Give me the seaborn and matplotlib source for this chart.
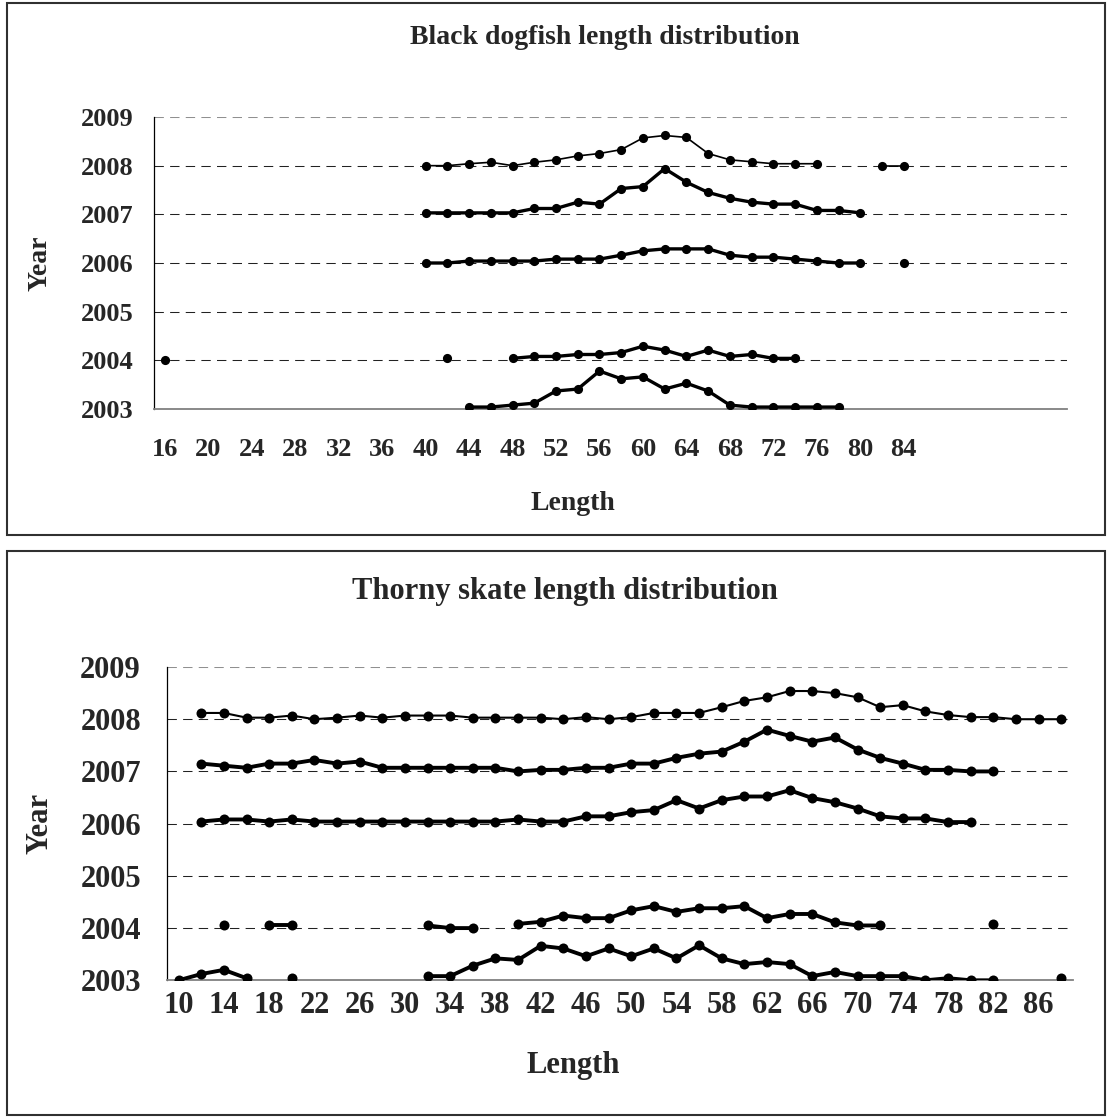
import numpy as np
import pandas as pd
import matplotlib
matplotlib.use("Agg")
import matplotlib.pyplot as plt
from matplotlib.patches import Rectangle
import seaborn as sns

sns.set_style("white")
plt.rcParams['font.family'] = ['Liberation Serif', 'DejaVu Serif']
plt.rcParams['font.weight'] = 'bold'

# ---------------- Data: Black dogfish ----------------
bd_title = "Black dogfish length distribution"
bd_xticklabels = [16, 20, 24, 28, 32, 36, 40, 44, 48, 52, 56, 60, 64, 68, 72, 76, 80, 84]
bd_2008_len = [40, 42, 44, 46, 48, 50, 52, 54, 56, 58, 60, 62, 64, 66, 68, 70, 72, 74, 76, 82, 84]
bd_2008_val = [2008.00, 2008.00, 2008.04, 2008.07, 2008.00, 2008.07, 2008.12, 2008.20, 2008.25, 2008.33,
               2008.57, 2008.62, 2008.58, 2008.25, 2008.12, 2008.08, 2008.04, 2008.04, 2008.04, 2008.00, 2008.00]
bd_2007_len = [40, 42, 44, 46, 48, 50, 52, 54, 56, 58, 60, 62, 64, 66, 68, 70, 72, 74, 76, 78, 80]
bd_2007_val = [2007.03, 2007.03, 2007.03, 2007.03, 2007.03, 2007.12, 2007.12, 2007.25, 2007.21, 2007.53,
               2007.57, 2007.94, 2007.66, 2007.45, 2007.33, 2007.25, 2007.21, 2007.21, 2007.08, 2007.08, 2007.03]
bd_2006_len = [40, 42, 44, 46, 48, 50, 52, 54, 56, 58, 60, 62, 64, 66, 68, 70, 72, 74, 76, 78, 80, 84]
bd_2006_val = [2006.00, 2006.00, 2006.04, 2006.04, 2006.04, 2006.04, 2006.08, 2006.08, 2006.08, 2006.16,
               2006.25, 2006.29, 2006.29, 2006.29, 2006.16, 2006.12, 2006.12, 2006.08, 2006.04, 2006.00,
               2006.00, 2006.00]
bd_2004_len = [16, 42, 48, 50, 52, 54, 56, 58, 60, 62, 64, 66, 68, 70, 72, 74]
bd_2004_val = [2004.00, 2004.04, 2004.04, 2004.08, 2004.08, 2004.12, 2004.12, 2004.16, 2004.29, 2004.21,
               2004.08, 2004.21, 2004.08, 2004.12, 2004.04, 2004.04]
bd_2003_len = [44, 46, 48, 50, 52, 54, 56, 58, 60, 62, 64, 66, 68, 70, 72, 74, 76, 78]
bd_2003_val = [2003.04, 2003.04, 2003.08, 2003.12, 2003.37, 2003.41, 2003.78, 2003.62, 2003.66, 2003.41,
               2003.53, 2003.37, 2003.08, 2003.04, 2003.04, 2003.04, 2003.04, 2003.04]

# ---------------- Data: Thorny skate ----------------
ts_title = "Thorny skate length distribution"
ts_xticklabels = [10, 14, 18, 22, 26, 30, 34, 38, 42, 46, 50, 54, 58, 62, 66, 70, 74, 78, 82, 86]
ts_2008_len = [12, 14, 16, 18, 20, 22, 24, 26, 28, 30, 32, 34, 36, 38, 40, 42, 44, 46, 48, 50,
               52, 54, 56, 58, 60, 62, 64, 66, 68, 70, 72, 74, 76, 78, 80, 82, 84, 86, 88]
ts_2008_val = [2008.12, 2008.12, 2008.03, 2008.03, 2008.07, 2008.00, 2008.03, 2008.07, 2008.03, 2008.07,
               2008.07, 2008.07, 2008.03, 2008.03, 2008.03, 2008.03, 2008.00, 2008.04, 2008.00, 2008.04,
               2008.12, 2008.12, 2008.12, 2008.23, 2008.35, 2008.42, 2008.54, 2008.54, 2008.50, 2008.42,
               2008.23, 2008.27, 2008.15, 2008.08, 2008.04, 2008.04, 2008.00, 2008.00, 2008.00]
ts_2007_len = [12, 14, 16, 18, 20, 22, 24, 26, 28, 30, 32, 34, 36, 38, 40, 42, 44, 46, 48, 50,
               52, 54, 56, 58, 60, 62, 64, 66, 68, 70, 72, 74, 76, 78, 80, 82]
ts_2007_val = [2007.15, 2007.11, 2007.07, 2007.15, 2007.15, 2007.22, 2007.15, 2007.19, 2007.07, 2007.07,
               2007.07, 2007.07, 2007.07, 2007.07, 2007.00, 2007.03, 2007.03, 2007.07, 2007.07, 2007.15,
               2007.15, 2007.26, 2007.34, 2007.38, 2007.57, 2007.80, 2007.68, 2007.57, 2007.65, 2007.42,
               2007.26, 2007.15, 2007.03, 2007.03, 2007.00, 2007.00]
ts_2006_len = [12, 14, 16, 18, 20, 22, 24, 26, 28, 30, 32, 34, 36, 38, 40, 42, 44, 46, 48, 50,
               52, 54, 56, 58, 60, 62, 64, 66, 68, 70, 72, 74, 76, 78, 80]
ts_2006_val = [2006.04, 2006.08, 2006.08, 2006.04, 2006.08, 2006.04, 2006.04, 2006.04, 2006.04, 2006.04,
               2006.04, 2006.04, 2006.04, 2006.04, 2006.08, 2006.04, 2006.04, 2006.14, 2006.14, 2006.22,
               2006.26, 2006.45, 2006.29, 2006.45, 2006.52, 2006.52, 2006.64, 2006.49, 2006.41, 2006.29,
               2006.14, 2006.10, 2006.10, 2006.03, 2006.03]
ts_2004_len = [14, 18, 20, 32, 34, 36, 40, 42, 44, 46, 48, 50, 52, 54, 56, 58, 60, 62, 64, 66,
               68, 70, 72, 82]
ts_2004_val = [2004.05, 2004.05, 2004.05, 2004.05, 2004.00, 2004.00, 2004.08, 2004.12, 2004.24, 2004.19,
               2004.19, 2004.34, 2004.42, 2004.31, 2004.38, 2004.38, 2004.42, 2004.19, 2004.27, 2004.27,
               2004.11, 2004.05, 2004.05, 2004.08]
ts_2003_len = [10, 12, 14, 16, 20, 32, 34, 36, 38, 40, 42, 44, 46, 48, 50, 52, 54, 56, 58, 60,
               62, 64, 66, 68, 70, 72, 74, 76, 78, 80, 82, 88]
ts_2003_val = [2003.00, 2003.12, 2003.20, 2003.04, 2003.04, 2003.08, 2003.08, 2003.28, 2003.42, 2003.39,
               2003.66, 2003.61, 2003.46, 2003.61, 2003.46, 2003.61, 2003.42, 2003.67, 2003.42, 2003.31,
               2003.35, 2003.31, 2003.08, 2003.16, 2003.08, 2003.08, 2003.08, 2003.00, 2003.04, 2003.00,
               2003.00, 2003.04]

year_ticks = [2003, 2004, 2005, 2006, 2007, 2008, 2009]


def to_frame(lengths, values):
    lengths = np.asarray(lengths)
    seg = np.concatenate([[0], np.cumsum(np.diff(lengths) > 2)])
    return pd.DataFrame({"Length": lengths, "Year": values, "seg": seg})


W, H = 1108, 1118
fig = plt.figure(figsize=(W / 100, H / 100), dpi=100)


def px_axes(left, top, right, bottom):
    return fig.add_axes([left / W, 1 - bottom / H, (right - left) / W, (bottom - top) / H])


def style_panel(ax, xlim, ticklabels, fs, xpad, ypad, ytick_len):
    ax.set_xlim(*xlim)
    ax.set_ylim(2003, 2009)
    ax.set_yticks(year_ticks)
    ax.set_yticklabels([str(y) for y in year_ticks], fontsize=fs, fontweight='bold')
    ax.set_xticks(ticklabels)
    ax.set_xticklabels([str(t) for t in ticklabels], fontsize=fs, fontweight='bold')
    ax.set_xticks(np.arange(xlim[0], xlim[1] + 0.5, 2), minor=True)
    ax.tick_params(axis='x', which='major', length=0, pad=xpad)
    ax.tick_params(axis='x', which='minor', length=5, width=0.9, color='#707070', direction='out')
    ax.tick_params(axis='y', which='major', length=ytick_len, width=0.9, color='#505050',
                   direction='out', pad=ypad)
    ax.set_xlabel("")
    ax.set_ylabel("")
    for s in ['top', 'right']:
        ax.spines[s].set_visible(False)
    ax.spines['left'].set_color('black')
    ax.spines['left'].set_linewidth(0.9)
    ax.spines['bottom'].set_color('#808080')
    ax.spines['bottom'].set_linewidth(1.3)
    for y in year_ticks[1:]:
        ax.axhline(y, color='#909090' if y == 2009 else '#222222', lw=0.75,
                   ls=(0, (9, 6)), zorder=0)


def draw_series(ax, lengths, values, lw, ms):
    df = to_frame(lengths, values)
    sns.lineplot(data=df, x="Length", y="Year", units="seg", estimator=None, sort=False,
                 color="black", lw=lw, marker="o", markersize=ms, markeredgewidth=0,
                 legend=False, ax=ax, zorder=3)


# Panel frames
for (l, t, r, b) in [(7, 3, 1105, 535), (7, 551, 1105, 1115)]:
    fig.add_artist(Rectangle((l / W, 1 - b / H), (r - l) / W, (b - t) / H,
                             transform=fig.transFigure, fill=False, ec='#303030', lw=1.5))

# ---------- Top panel ----------
ax1 = px_axes(154, 117, 1066.7, 409)
draw_series(ax1, bd_2008_len, bd_2008_val, 1.2, 6.6)
draw_series(ax1, bd_2007_len, bd_2007_val, 2.4, 6.6)
draw_series(ax1, bd_2006_len, bd_2006_val, 2.4, 6.6)
draw_series(ax1, bd_2004_len, bd_2004_val, 2.4, 6.6)
draw_series(ax1, bd_2003_len, bd_2003_val, 2.4, 6.6)
style_panel(ax1, (15, 99), bd_xticklabels, 19, 21, 9, 6)
fig.text(605 / W, 1 - 38 / H, bd_title, ha='center', va='center', fontsize=20, fontweight='bold')
fig.text(40 / W, 1 - 263 / H, "Year", ha='center', va='center', rotation=90, fontsize=20,
         fontweight='bold')
fig.text(573 / W, 1 - 503 / H, "Length", ha='center', va='center', fontsize=20, fontweight='bold')

# ---------- Bottom panel ----------
ax2 = px_axes(167.3, 667, 1072.5, 980.3)
draw_series(ax2, ts_2008_len, ts_2008_val, 1.5, 7.2)
draw_series(ax2, ts_2007_len, ts_2007_val, 2.8, 7.2)
draw_series(ax2, ts_2006_len, ts_2006_val, 2.8, 7.2)
draw_series(ax2, ts_2004_len, ts_2004_val, 2.8, 7.2)
draw_series(ax2, ts_2003_len, ts_2003_val, 2.8, 7.2)
style_panel(ax2, (9, 89), ts_xticklabels, 22, 8, 12, 7)
fig.text(565 / W, 1 - 591 / H, ts_title, ha='center', va='center', fontsize=22, fontweight='bold')
fig.text(40 / W, 1 - 823 / H, "Year", ha='center', va='center', rotation=90, fontsize=22,
         fontweight='bold')
fig.text(573 / W, 1 - 1065 / H, "Length", ha='center', va='center', fontsize=22, fontweight='bold')

fig.savefig("out.png", dpi=100, facecolor='white')
